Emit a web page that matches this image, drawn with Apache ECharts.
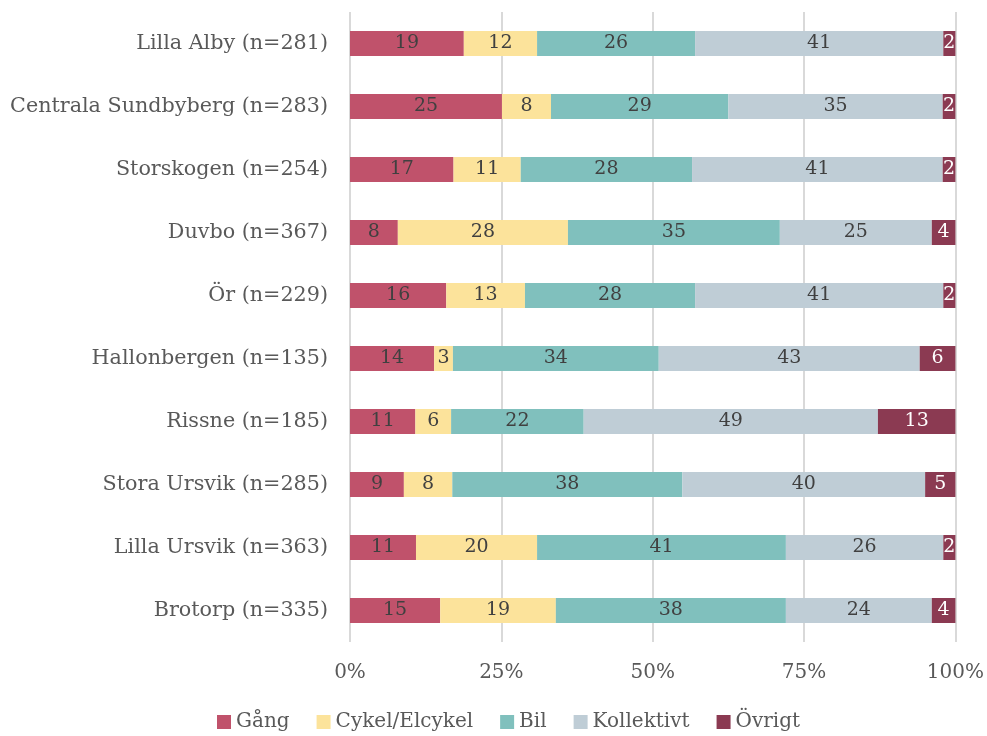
<!DOCTYPE html>
<html>
<head>
<meta charset="utf-8">
<title>Färdsätt per område</title>
<script src="https://cdn.jsdelivr.net/npm/echarts@6/dist/echarts.min.js"></script>
<style>
    html, body { margin: 0; padding: 0; background: #fff; }
    #myChart { width: 987px; height: 736px; }
</style>
</head>
<body>
<div id="myChart"></div>
<script>
// områden, uppifrån och ned
const categories = [
    'Lilla Alby (n=281)',
    'Centrala Sundbyberg (n=283)',
    'Storskogen (n=254)',
    'Duvbo (n=367)',
    'Ör (n=229)',
    'Hallonbergen (n=135)',
    'Rissne (n=185)',
    'Stora Ursvik (n=285)',
    'Lilla Ursvik (n=363)',
    'Brotorp (n=335)'
];

// andel i procent (avläst), etiketterna visar avrundat värde
const gang = [18.8, 25.1, 17.1, 7.9, 15.9, 13.9, 10.8, 8.9, 10.9, 14.9];
const cykel = [12.1, 8.1, 11.1, 28.1, 13.0, 3.1, 5.9, 8.0, 20.0, 19.1];
const bil = [26.1, 29.3, 28.3, 35.0, 28.1, 34.0, 21.9, 38.0, 41.1, 38.0];
const kollektivt = [41.0, 35.4, 41.4, 25.1, 41.0, 43.1, 48.6, 40.1, 26.0, 24.1];
const ovrigt = [2.0, 2.1, 2.1, 3.9, 2.0, 5.9, 12.8, 5.0, 2.0, 3.9];

const ticks = [0, 25, 50, 75, 100];

const font = 'DejaVu Serif';

let myChart = echarts.init(document.getElementById('myChart'));

function makeSeries(name, data, color, labelColor) {
    return {
        name: name,
        type: 'bar',
        stack: 'total',
        data: data,
        barWidth: 25,
        itemStyle: {
            color: color
        },
        label: {
            show: true,
            position: 'inside',
            color: labelColor,
            fontFamily: font,
            fontSize: 19,
            formatter: p => Math.round(p.value)
        },
        emphasis: { disabled: true }
    };
}

let option = {
    animation: false,
    textStyle: { fontFamily: font },
    grid: {
        left: 350,
        right: 31,
        top: 12,
        bottom: 94,
        // containLabel: false
    },
    legend: {
        bottom: -1,
        left: 212,
        itemWidth: 14,
        itemHeight: 14,
        itemGap: 27,
        icon: 'rect',
        textStyle: {
            color: '#595959',
            fontFamily: font,
            fontSize: 20
        },
        data: ['Gång', 'Cykel/Elcykel', 'Bil', 'Kollektivt', 'Övrigt']
    },
    xAxis: {
        type: 'value',
        min: ticks[0],
        max: ticks[ticks.length - 1],
        interval: 25,
        axisLine: { show: false },
        axisTick: { show: false },
        axisLabel: {
            margin: 21,
            color: '#595959',
            fontFamily: font,
            fontSize: 20,
            formatter: '{value}%'
        },
        splitLine: {
            lineStyle: { color: '#d9d9d9', width: 2 }
        }
    },
    yAxis: {
        type: 'category',
        inverse: true,
        data: categories,
        axisLine: { show: false },
        axisTick: { show: false },
        axisLabel: {
            margin: 22,
            color: '#595959',
            fontFamily: font,
            fontSize: 20.7
        }
    },
    series: [
        makeSeries('Gång', gang, '#c0526b', '#404040'),
        makeSeries('Cykel/Elcykel', cykel, '#fce39b', '#404040'),
        makeSeries('Bil', bil, '#80c0bd', '#404040'),
        makeSeries('Kollektivt', kollektivt, '#bfcdd6', '#404040'),
        makeSeries('Övrigt', ovrigt, '#8b3a52', '#ffffff')
    ]
};

myChart.setOption(option);
</script>
</body>
</html>
